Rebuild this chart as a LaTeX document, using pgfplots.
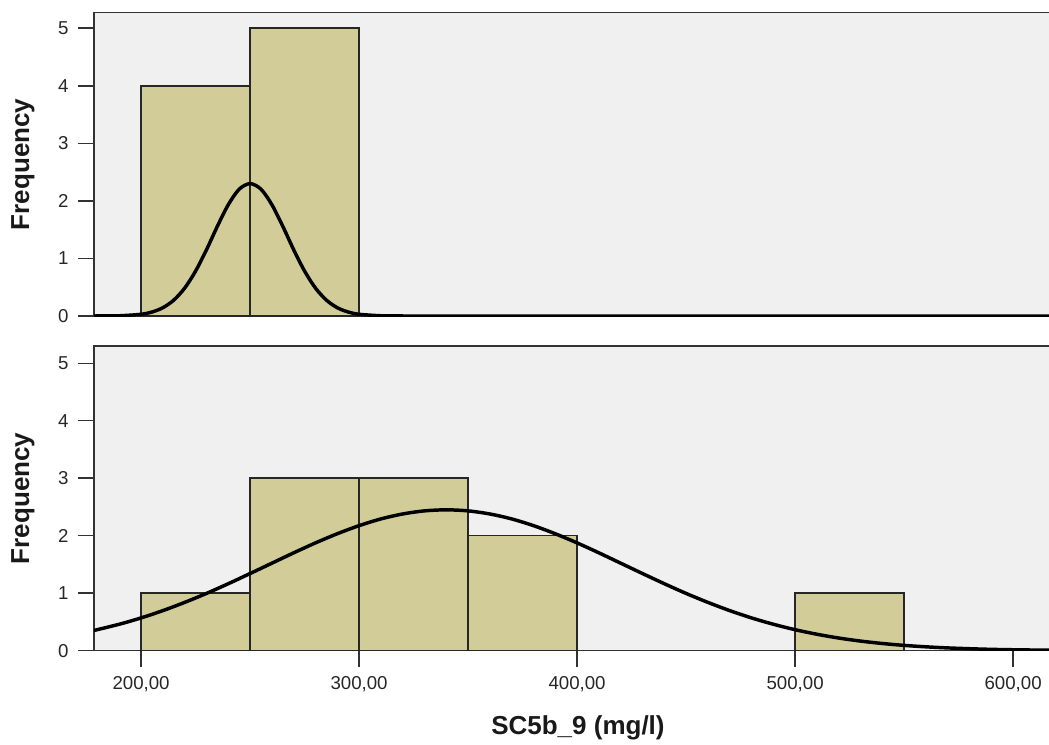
\documentclass[border=0pt]{standalone}
\usepackage{fontspec}
\setmainfont{Liberation Sans}
\usepackage{pgfplots}
\pgfplotsset{compat=1.18}
\definecolor{bg}{RGB}{240,240,240}
\definecolor{barc}{RGB}{210,205,152}
\definecolor{axc}{RGB}{50,50,50}
\pgfplotsset{
  hist/.style={
    scale only axis, width=740pt,
    xmin=178.4, xmax=631, ymin=0,
    axis background/.style={fill=bg},
    axis line style={draw=axc, line width=1.2pt},
    xtick align=outside, ytick align=outside,
    xtick pos=bottom, ytick pos=left,
    major tick length=12pt,
    xtick style={draw=axc, line width=1.4pt},
    ytick style={draw=axc, line width=1.1pt},
    ytick={0,1,2,3,4,5},
    /pgf/number format/assume math mode=true,
    tick label style={font=\fontsize{14}{16}\selectfont, text=black!85},
    yticklabel style={xshift=-3.5pt},
    xticklabel style={yshift=-4pt, /pgf/number format/.cd, fixed, fixed zerofill, precision=2, use comma, 1000 sep={}},
    label style={font=\fontsize{19.5}{23}\selectfont\bfseries, text=black!90},
    ylabel style={at={(axis description cs:-0.072,0.5)}, anchor=center},
    xlabel style={at={(axis description cs:0.4905,0)}, anchor=base, yshift=-63pt},
  },
  hbar/.style={ybar, bar width=50, bar shift=0pt, fill=barc, draw=black!85, line width=1.1pt},
}
\begin{document}
\begin{tikzpicture}
\path[use as bounding box] (-70.5pt,-70pt) rectangle (716.25pt,488pt);
\begin{axis}[hist, at={(0pt,251pt)}, anchor=south west, height=227.5pt, ymax=5.27, xtick=\empty, ylabel={Frequency}]
\addplot[hbar] coordinates {(225,4) (275,5)};
\addplot[black, line width=2.6pt, smooth] coordinates {
(178,0.0003) (190,0.0045) (200,0.030) (205,0.069) (210,0.144) (215,0.276) (220,0.485) (225,0.780) (230,1.151) (235,1.559) (240,1.934) (245,2.203) (250,2.3)
(255,2.203) (260,1.934) (265,1.559) (270,1.151) (275,0.780) (280,0.485) (285,0.276) (290,0.144) (295,0.069) (300,0.030) (310,0.0045) (320,0.0004) (340,0) (631,0)};
\end{axis}
\begin{axis}[hist, at={(0pt,0pt)}, anchor=south west, height=228.5pt, ymax=5.3, xtick={200,300,400,500,600}, ylabel={Frequency}, xlabel={SC5b\_9 (mg/l)}]
\addplot[hbar] coordinates {(225,1) (275,3) (325,3) (375,2) (525,1)};
\addplot[black, line width=2.6pt, smooth] coordinates {
(178,0.348) (190,0.460) (200,0.570) (210,0.697) (220,0.840) (230,0.996) (240,1.165) (250,1.342) (260,1.522) (270,1.702) (280,1.875) (290,2.034) (300,2.175) (310,2.292) (320,2.378) (330,2.432) (340,2.45)
(350,2.432) (360,2.378) (370,2.292) (380,2.175) (390,2.034) (400,1.875) (410,1.702) (420,1.522) (430,1.342) (440,1.165) (450,0.996) (460,0.840) (470,0.697) (480,0.570) (490,0.460) (500,0.365) (510,0.286) (520,0.220) (530,0.167) (540,0.125) (550,0.092) (560,0.067) (570,0.048) (580,0.034) (590,0.023) (600,0.016) (610,0.011) (620,0.008) (631,0.005)};
\end{axis}
\end{tikzpicture}
\end{document}
